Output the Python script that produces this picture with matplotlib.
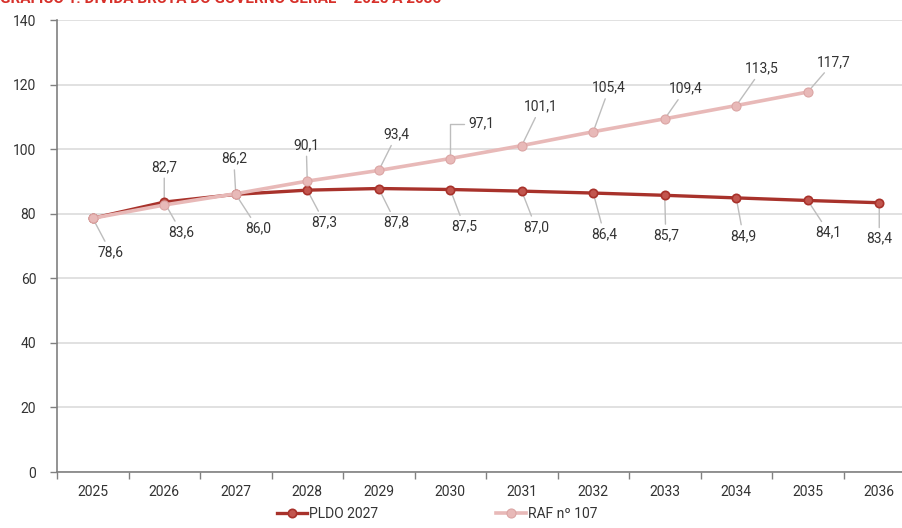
import matplotlib
matplotlib.use("Agg")
import matplotlib.pyplot as plt
import numpy as np

years = ["2025", "2026", "2027", "2028", "2029", "2030",
         "2031", "2032", "2033", "2034", "2035", "2036"]
pldo = [78.6, 83.6, 86.0, 87.3, 87.8, 87.5, 87.0, 86.4, 85.7, 84.9, 84.1, 83.4]
raf = [78.6, 82.7, 86.2, 90.1, 93.4, 97.1, 101.1, 105.4, 109.4, 113.5, 117.7]

# label offsets in pixels (dx, dy) relative to each point
pldo_off = [None, (17, -30), (22, -34), (17, -32), (17, -34), (14, -37),
            (14, -36), (11, -41), (1, -40), (7, -38), (21, -32), (0, -36)]
raf_off = [(18, -34), (0, 38), (-2, 35), (-1, 36), (18, 36), (31, 35),
           (19, 39), (16, 44), (21, 30), (26, 37), (26, 30)]

plt.rcParams['font.family'] = ['Roboto', 'DejaVu Sans']

c_pldo = "#a8322b"
c_pldo_face = "#c2564f"
c_raf = "#e8b9b8"
c_lead = "#bdbdbd"
c_text = "#333333"

fig = plt.figure(figsize=(9.03, 5.28), dpi=100)
ax = fig.add_axes([57 / 903, 56 / 528, 858 / 903, 452 / 528])

x = np.arange(len(years))
ax.plot(x[:len(pldo)], pldo, color=c_pldo, lw=2.4, marker="o", ms=6,
        mfc=c_pldo_face, mec=c_pldo, mew=1.2, label="PLDO 2027", zorder=3)
ax.plot(x[:len(raf)], raf, color=c_raf, lw=2.6, marker="o", ms=6.5,
        mfc=c_raf, mec="#dba5a4", mew=0.8, label="RAF nº 107", zorder=4)

lead = dict(arrowstyle="-", color=c_lead, lw=1, shrinkA=1, shrinkB=3)
for i, v in enumerate(raf):
    dx, dy = raf_off[i]
    props = dict(lead)
    if i == 5:
        props["connectionstyle"] = "angle,angleA=0,angleB=90,rad=0"
    ax.annotate(f"{v:.1f}".replace(".", ","), xy=(i, v), xytext=(dx, dy),
                textcoords="offset pixels", ha="center", va="center",
                fontsize=10, color=c_text, arrowprops=props, zorder=2)
for i, v in enumerate(pldo):
    if pldo_off[i] is None:
        continue
    dx, dy = pldo_off[i]
    ax.annotate(f"{v:.1f}".replace(".", ","), xy=(i, v), xytext=(dx, dy),
                textcoords="offset pixels", ha="center", va="center",
                fontsize=10, color=c_text, arrowprops=lead, zorder=2)

ax.set_ylim(0, 140)
ax.set_yticks(np.arange(0, 141, 20))
ax.set_xlim(-0.5, len(years) - 0.5)
ax.set_xticks(np.arange(-0.5, len(years), 1))
ax.set_xticklabels([])
ax.set_xticks(x, minor=True)
ax.set_xticklabels(years, minor=True)
ax.tick_params(axis="x", which="major", length=5, color="#808080", width=1)
ax.tick_params(axis="x", which="minor", length=0, pad=9, labelsize=10,
               labelcolor=c_text)
ax.tick_params(axis="y", length=5, color="#808080", width=1, pad=10,
               labelsize=10, labelcolor=c_text)

ax.grid(axis="y", color="#dcdcdc", lw=1.2)
ax.set_axisbelow(True)
for s in ["top", "right"]:
    ax.spines[s].set_visible(False)
for s in ["left", "bottom"]:
    ax.spines[s].set_color("#808080")
    ax.spines[s].set_linewidth(1.2)

ax.legend(loc="center", bbox_to_anchor=(0.443, -0.093),
          ncol=2, frameon=False, fontsize=10, handlelength=2.2,
          handletextpad=0.1, columnspacing=8.5, labelcolor=c_text,
          borderpad=0.1)

fig.text(0.0, 1 - 3 / 528, "GRÁFICO 1. DÍVIDA BRUTA DO GOVERNO GERAL – 2025 A 2036",
         color="#d7302a", fontsize=11, fontweight="bold", va="baseline", ha="left")

fig.savefig("out.png", dpi=100)
